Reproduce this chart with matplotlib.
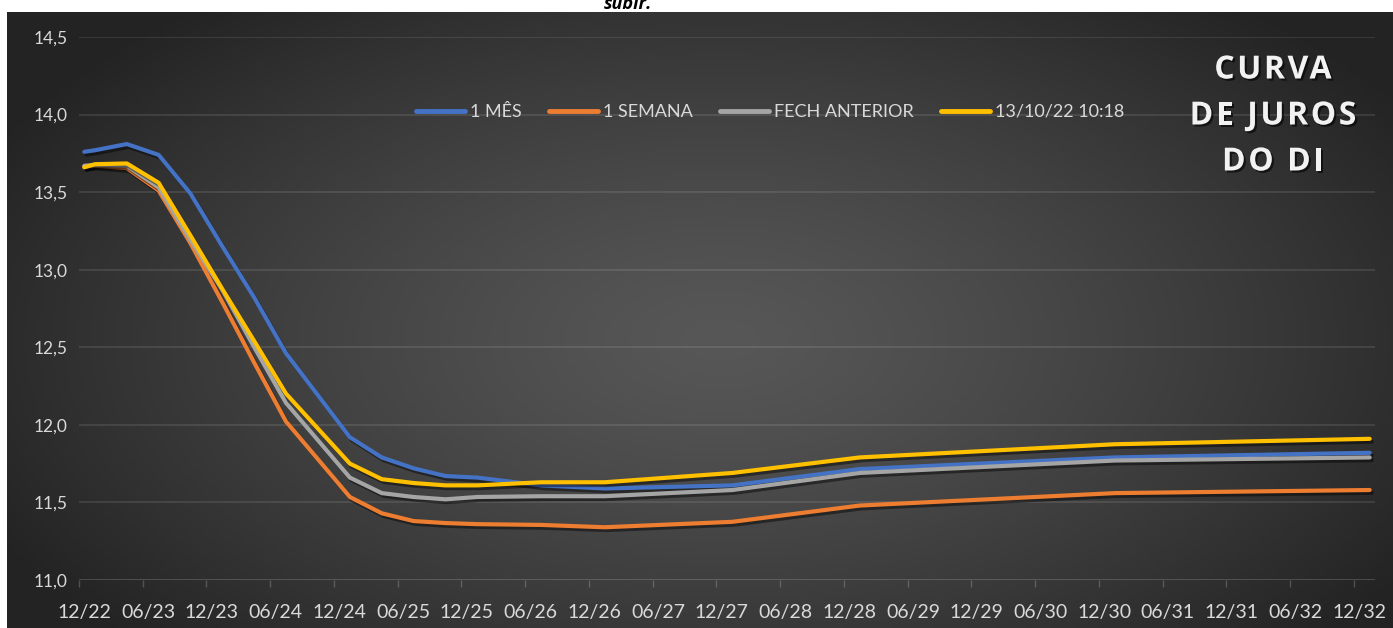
import numpy as np
import matplotlib
matplotlib.use("Agg")
import matplotlib.pyplot as plt
import matplotlib.patheffects as pe
from matplotlib.lines import Line2D

# ---------------- data ----------------
maturities = ["2022-12", "2023-01", "2023-04", "2023-07", "2023-10", "2024-01",
              "2024-04", "2024-07", "2025-01", "2025-04", "2025-07", "2025-10",
              "2026-01", "2026-07", "2027-01", "2028-01", "2029-01", "2031-01",
              "2033-01"]
um_mes = [13.76, 13.77, 13.81, 13.74, 13.49, 13.15, 12.82, 12.46, 11.92, 11.79,
          11.72, 11.67, 11.66, 11.61, 11.59, 11.61, 11.715, 11.79, 11.82]
uma_semana = [13.665, 13.67, 13.655, 13.51, 13.17, 12.79, 12.40, 12.02, 11.535,
              11.43, 11.38, 11.367, 11.36, 11.355, 11.34, 11.375, 11.48, 11.56, 11.58]
fech_anterior = [13.67, 13.675, 13.67, 13.53, 13.19, 12.87, 12.50, 12.14, 11.66,
                 11.56, 11.535, 11.52, 11.535, 11.54, 11.54, 11.58, 11.69, 11.77, 11.79]
atual = [13.66, 13.68, 13.685, 13.56, 13.22, 12.875, 12.54, 12.20, 11.75, 11.65,
         11.625, 11.61, 11.61, 11.63, 11.63, 11.69, 11.79, 11.875, 11.91]
series_names = ["1 MÊS", "1 SEMANA", "FECH ANTERIOR", "13/10/22 10:18"]
series_colors = ["#4472C4", "#ED7D31", "#A5A5A5", "#FFC000"]
tick_labels = ["12/22", "06/23", "12/23", "06/24", "12/24", "06/25", "12/25",
               "06/26", "12/26", "06/27", "12/27", "06/28", "12/28", "06/29",
               "12/29", "06/30", "12/30", "06/31", "12/31", "06/32", "12/32"]
y_ticks = [11.0, 11.5, 12.0, 12.5, 13.0, 13.5, 14.0, 14.5]
title_lines = ["CURVA", "DE JUROS", "DO DI"]


def month_index(s):
    y, m = s.split("-")
    return (int(y) - 2022) * 12 + (int(m) - 12)


x_pos = [month_index(s) + 0.5 for s in maturities]

W, H = 1393, 628
fig = plt.figure(figsize=(W / 100, H / 100), dpi=100, facecolor="white")

# ---------------- background gradient ----------------
bg_left, bg_top = 7, 12
bg = fig.add_axes([bg_left / W, 0, 1 - bg_left / W, (H - bg_top) / H])
bg.set_axis_off()
gx = np.linspace(bg_left, W, 400)
gy = np.linspace(bg_top, H, 200)
XX, YY = np.meshgrid(gx, gy)
r = np.sqrt(((XX - 720) / 820) ** 2 + ((YY - 340) / 440) ** 2)
r = np.clip(r, 0, 1)
v = (0x57 + (0x23 - 0x57) * r ** 1.3) / 255.0
img = np.dstack([v, v, v])
bg.imshow(img, aspect="auto", extent=[0, 1, 0, 1], origin="upper")
bg.set_xlim(0, 1)
bg.set_ylim(0, 1)

# ---------------- main axes ----------------
x0, x1 = 79, 1375
y0, y1 = 580, 37
ax = fig.add_axes([x0 / W, (H - y0) / H, (x1 - x0) / W, (y0 - y1) / H])
ax.set_facecolor("none")
for s in ax.spines.values():
    s.set_visible(False)
ax.set_xlim(0, 122)
ax.set_ylim(11.0, 14.5)

grid_c = (1, 1, 1, 0.11)
for yv in y_ticks[1:]:
    ax.axhline(yv, color=grid_c, lw=1.3, zorder=1)
ax.axhline(11.0, color=(1, 1, 1, 0.2), lw=1.2, zorder=1)

ax.set_yticks(y_ticks)
ax.set_yticklabels([f"{t:.1f}".replace(".", ",") for t in y_ticks])
ax.tick_params(axis="y", length=0, pad=8, labelsize=12.5, labelcolor="#d9d9d9")

major = list(range(0, 121, 6))
ax.set_xticks(major)
ax.set_xticklabels([""] * len(major))
ax.tick_params(axis="x", which="major", direction="out", length=5, width=1,
               color=(1, 1, 1, 0.2))
ax.set_xticks([m + 0.5 for m in major], minor=True)
ax.set_xticklabels(tick_labels, minor=True)
ax.tick_params(axis="x", which="minor", length=0, pad=17, labelsize=14,
               labelcolor="#d9d9d9")
for lab in ax.get_xticklabels(minor=True) + ax.get_yticklabels():
    lab.set_fontfamily(["Lato", "DejaVu Sans"])

shadow = [pe.SimpleLineShadow(offset=(1.5, -2), shadow_color="black", alpha=0.45),
          pe.Normal()]
for vals, name, col in zip([um_mes, uma_semana, fech_anterior, atual],
                           series_names, series_colors):
    ax.plot(x_pos, vals, color=col, lw=3.0, solid_capstyle="round",
            solid_joinstyle="round", label=name, path_effects=shadow, zorder=3)

handles = [Line2D([0], [0], color=c, lw=3.5, solid_capstyle="round")
           for c in series_colors]
leg = ax.legend(handles, series_names, loc="center", bbox_to_anchor=(770 / W, (H - 112) / H),
                bbox_transform=fig.transFigure, ncol=4, frameon=False,
                handlelength=2.7, handletextpad=0.3, columnspacing=1.5,
                prop={"family": ["Lato", "DejaVu Sans"], "size": 13})
for t in leg.get_texts():
    t.set_color("#d9d9d9")

# ---------------- title (letter-spaced) ----------------
tshadow = [pe.SimplePatchShadow(offset=(1.5, -1.5), shadow_rgbFace="black", alpha=0.6),
           pe.Normal()]
tkw = dict(fontsize=23, fontweight="bold", family=["Open Sans", "DejaVu Sans"])
renderer = fig.canvas.get_renderer()


def ink_w(s):
    t = fig.text(0, 0, s, ha="left", va="baseline", **tkw)
    w = t.get_window_extent(renderer).width
    t.remove()
    return w


extra = 2.5
cx = 1273
for txt, yc in zip(title_lines, [70, 116, 162]):
    n_letters = len(txt)
    total = ink_w(txt) + (n_letters - 1) * extra
    start = cx - total / 2
    for i, ch in enumerate(txt):
        if ch == " ":
            continue
        pos = ink_w(txt[:i + 1]) - ink_w(ch) + i * extra
        fig.text((start + pos) / W, (H - yc) / H, ch, ha="left", va="center",
                 color="#f2f2f2", path_effects=tshadow, **tkw)

# cut-off caption text at top (as in the source image)
fig.text(628 / W, (H - 9) / H, "subir.", ha="center", va="baseline",
         fontsize=13, fontweight="bold", fontstyle="italic", color="black",
         family=["Open Sans", "DejaVu Sans"])

fig.savefig("out.png", dpi=100, facecolor="white")
